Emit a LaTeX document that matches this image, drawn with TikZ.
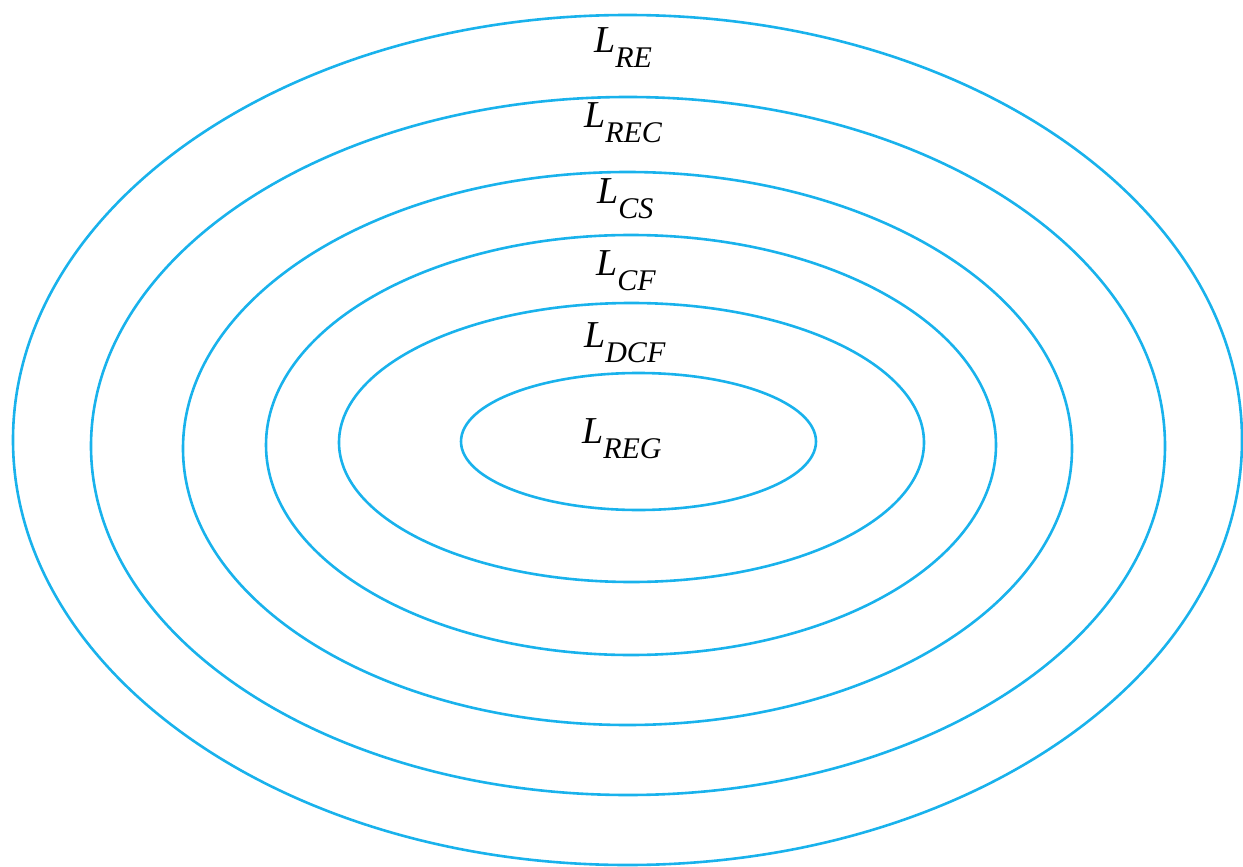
\documentclass[tikz,border=0pt]{standalone}
\usepackage{fontspec}
\setmainfont{Liberation Serif}
\definecolor{ringblue}{RGB}{25,178,236}
\newcommand{\lang}[1]{\itshape L\raisebox{-15pt}{\fontsize{30}{30}\selectfont #1}}
\begin{document}
\begin{tikzpicture}[x=1pt,y=-1pt,
  ring/.style={draw=ringblue,line width=2.6pt},
  lab/.style={anchor=base west,inner sep=0pt,font=\fontsize{38}{38}\selectfont}]
\useasboundingbox (0,0) rectangle (1243,867);
\draw[ring] (627.5,440) ellipse [x radius=614.5, y radius=425];
\draw[ring] (628,446) ellipse [x radius=537, y radius=349];
\draw[ring] (627.5,448.5) ellipse [x radius=444.5, y radius=276.5];
\draw[ring] (631,445) ellipse [x radius=365, y radius=210];
\draw[ring] (631.5,442.5) ellipse [x radius=292.5, y radius=139.5];
\draw[ring] (638.5,441.5) ellipse [x radius=177.5, y radius=68.5];
\node[lab] (re) at (594,53) {\lang{RE}};
\node[lab] (rec) at (584,128) {\lang{REC}};
\node[lab] (cs) at (597,203) {\lang{CS}};
\node[lab] (cf) at (596,275) {\lang{CF}};
\node[lab] (dcf) at (584,347) {\lang{DCF}};
\node[lab] (reg) at (582,443) {\lang{REG}};
\end{tikzpicture}
\end{document}
